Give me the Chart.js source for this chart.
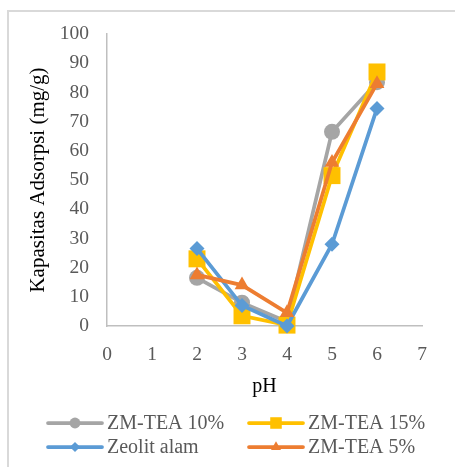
<!DOCTYPE html>
<html>
<head>
<meta charset="utf-8">
<script src="https://cdn.jsdelivr.net/npm/chart.js@4.4.1/dist/chart.umd.min.js"></script>
<style>
  html, body { margin: 0; padding: 0; background: #fff; }
  #wrap { position: relative; width: 455px; height: 467px; overflow: hidden; }
  #frame { position: absolute; left: 7px; top: 10px; width: 600px; height: 600px; border: 2px solid #D9D9D9; box-sizing: border-box; }
  canvas { position: absolute; left: 0; top: 0; }
</style>
</head>
<body>
<div id="wrap">
  <div id="frame"></div>
  <canvas id="c" width="455" height="467"></canvas>
</div>
<script>
// pH values (x)
const pH = [2, 3, 4, 5, 6];
// Series values (mg/g)
const zmTea10 = [16.5, 8, 1.5, 66.5, 83.5];
const zmTea15 = [23, 3.5, 0.3, 51.5, 87];
const zeolitAlam = [26.5, 7, 0, 28, 74.5];
const zmTea5 = [17.5, 14, 4.5, 56, 83];
const seriesNames = ['ZM-TEA 10%', 'ZM-TEA 15%', 'Zeolit alam', 'ZM-TEA 5%'];
const xTicks = [0, 1, 2, 3, 4, 5, 6, 7];
const yTicks = [0, 10, 20, 30, 40, 50, 60, 70, 80, 90, 100];

const FONT = 'Liberation Serif';
const colors = ['#A5A5A5', '#FFC000', '#5B9BD5', '#ED7D31'];
const styles = ['circle', 'rect', 'rectRot', 'triangle'];
const radii = [8, 12, 7.5, 8.5];
const values = [zmTea10, zmTea15, zeolitAlam, zmTea5];

const datasets = values.map((vals, i) => ({
  label: seriesNames[i],
  data: pH.map((x, j) => ({ x: x, y: vals[j] })),
  borderColor: colors[i],
  backgroundColor: colors[i],
  borderWidth: 3.75,
  pointStyle: styles[i],
  pointRadius: radii[i],
  pointBorderWidth: 0,
  pointBackgroundColor: colors[i],
  pointBorderColor: colors[i],
  tension: 0,
  clip: false,
  order: 4 - i
}));

const excelLegend = {
  id: 'excelLegend',
  afterDraw(chart) {
    const ctx = chart.ctx;
    const colX = [48, 249];
    const rowY = [423, 447];
    ctx.save();
    chart.data.datasets.forEach((ds, i) => {
      const x = colX[i % 2];
      const y = rowY[Math.floor(i / 2)];
      ctx.strokeStyle = ds.borderColor;
      ctx.lineWidth = 3.75;
      ctx.lineCap = 'round';
      ctx.beginPath();
      ctx.moveTo(x, y);
      ctx.lineTo(x + 54, y);
      ctx.stroke();
      ctx.fillStyle = ds.backgroundColor;
      Chart.helpers.drawPoint(ctx, {
        pointStyle: ds.pointStyle,
        radius: ds.pointRadius * 0.68,
        rotation: 0,
        borderWidth: 0
      }, x + 27, y);
      ctx.fillStyle = '#595959';
      ctx.font = '20px "' + FONT + '"';
      ctx.textAlign = 'left';
      ctx.textBaseline = 'middle';
      ctx.fillText(ds.label, x + 59, y + 1);
    });
    ctx.restore();
  }
};

new Chart(document.getElementById('c'), {
  type: 'line',
  data: { datasets: datasets },
  options: {
    responsive: false,
    animation: false,
    devicePixelRatio: 1,
    layout: { padding: { left: 18, right: 33, top: 34, bottom: 66 } },
    plugins: { legend: { display: false }, tooltip: { enabled: false } },
    scales: {
      x: {
        type: 'linear',
        min: 0, max: 7,
        afterBuildTicks: (s) => { s.ticks = xTicks.map(v => ({ value: v })); },
        afterFit: (s) => { s.height = 75; },
        grid: { display: true, drawOnChartArea: false, drawTicks: false },
        border: { display: true, color: '#BFBFBF', width: 1.5 },
        ticks: { color: '#595959', font: { family: FONT, size: 19.5 }, padding: 17, maxRotation: 0 },
        title: { display: true, text: 'pH', color: '#000', font: { family: FONT, size: 20 }, padding: { top: 0, bottom: 2 } }
      },
      y: {
        type: 'linear',
        min: 0, max: 100,
        afterBuildTicks: (s) => { s.ticks = yTicks.map(v => ({ value: v })); },
        afterFit: (s) => { s.width = 89; },
        grid: { display: true, drawOnChartArea: false, drawTicks: false },
        border: { display: true, color: '#BFBFBF', width: 1.5 },
        ticks: { color: '#595959', font: { family: FONT, size: 19.5 }, padding: 18 },
        title: { display: true, text: 'Kapasitas Adsorpsi (mg/g)', color: '#000', font: { family: FONT, size: 21 }, padding: { top: 8, bottom: 0 } }
      }
    }
  },
  plugins: [excelLegend]
});
</script>
</body>
</html>
